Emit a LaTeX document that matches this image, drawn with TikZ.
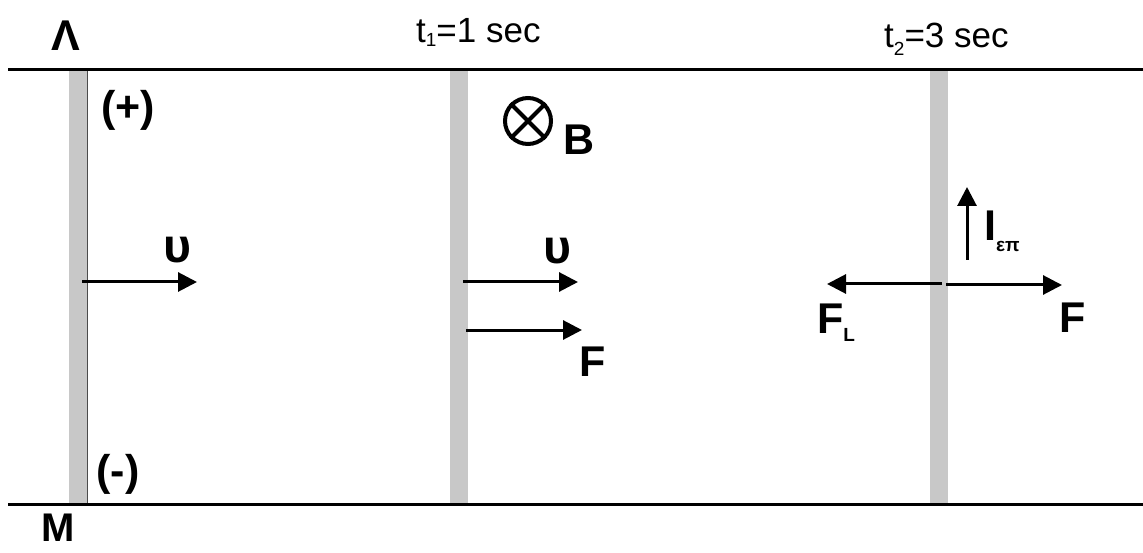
\documentclass[tikz,border=0pt]{standalone}
\usepackage{fontspec}
\setmainfont{Liberation Sans}
\usetikzlibrary{arrows.meta}

\definecolor{rodgrey}{RGB}{200,200,200}

\tikzset{
  rail/.style={line width=3pt},
  rod/.style={fill=rodgrey, draw=none, minimum width=18pt, minimum height=433pt,
    anchor=north, inner sep=0pt},
  vec/.style={line width=3pt, -{Triangle[length=19pt,width=19pt]}},
  lbl/.style={font=\fontsize{43}{43}\selectfont\bfseries, inner sep=0pt},
  vlbl/.style={font=\fontsize{48}{48}\selectfont\bfseries, inner sep=0pt},
  tlbl/.style={font=\fontsize{35}{35}\selectfont, inner sep=0pt, anchor=base west},
}

\newcommand{\subtxt}[2]{\raisebox{#1}{\fontsize{19}{19}\selectfont #2}}

\begin{document}
\begin{tikzpicture}[x=1pt,y=-1pt]
  \useasboundingbox (0,0) rectangle (1143,553);

  % moving rod at three instants
  \node[rod] (rodA) at (78,70) {};
  \node[rod] (rodB) at (459,70) {};
  \node[rod] (rodC) at (938.5,70) {};
  \draw[line width=1pt, black!70] (rodA.north east) -- (rodA.south east);

  % rails
  \coordinate (topL) at (8,70);
  \coordinate (topR) at (1143,70);
  \coordinate (botL) at (8,504);
  \coordinate (botR) at (1143,504);
  \draw[rail] (topL) -- (topR);
  \draw[rail] (botL) -- (botR);

  % rail and rod labels
  \node[lbl] (lamda) at (66,36) {Λ};
  \node[lbl, font=\fontsize{40}{40}\selectfont\bfseries, anchor=base] (emm) at (58,541) {M};
  \node[lbl] (plus) at (128,110) {(+)};
  \node[lbl] (minus) at (118,474) {(-)};

  % time labels
  \node[tlbl] (tone) at (416,43) {t\subtxt{-4pt}{1}=1 sec};
  \node[tlbl] (ttwo) at (884,48) {t\subtxt{-8pt}{2}=3 sec};

  % field into the page
  \node[draw, circle, line width=4pt, minimum size=46pt, inner sep=0pt] (Bsym) at (528,121) {};
  \draw[line width=4pt] (Bsym.north west) -- (Bsym.south east);
  \draw[line width=4pt] (Bsym.north east) -- (Bsym.south west);
  \node[lbl] (Blbl) at (579,140) {B};

  % rod A: velocity
  \coordinate (uA0) at (82,282);
  \coordinate (uA1) at (197,282);
  \draw[vec] (uA0) -- (uA1);
  \node[vlbl] (uAlbl) at (177,250) {υ};

  % rod B: velocity and force
  \coordinate (uB0) at (463,282);
  \coordinate (uB1) at (578,282);
  \draw[vec] (uB0) -- (uB1);
  \node[vlbl] (uBlbl) at (557,251) {υ};
  \coordinate (FB0) at (466,330);
  \coordinate (FB1) at (582,330);
  \draw[vec] (FB0) -- (FB1);
  \node[lbl] (FBlbl) at (593,362) {F};

  % rod C: induced current and forces
  \coordinate (I0) at (967,260);
  \coordinate (I1) at (967,187);
  \draw[vec] (I0) -- (I1);
  \node[lbl, anchor=base west] (Ilbl) at (984,241) {I\subtxt{-11pt}{επ}};
  \coordinate (FL0) at (942,284);
  \coordinate (FL1) at (827,284);
  \draw[vec] (FL0) -- (FL1);
  \node[lbl, anchor=base west] (FLlbl) at (817,333) {F\subtxt{-9pt}{L}};
  \coordinate (FC0) at (946,285);
  \coordinate (FC1) at (1062,285);
  \draw[vec] (FC0) -- (FC1);
  \node[lbl] (FClbl) at (1073,318) {F};
\end{tikzpicture}
\end{document}
